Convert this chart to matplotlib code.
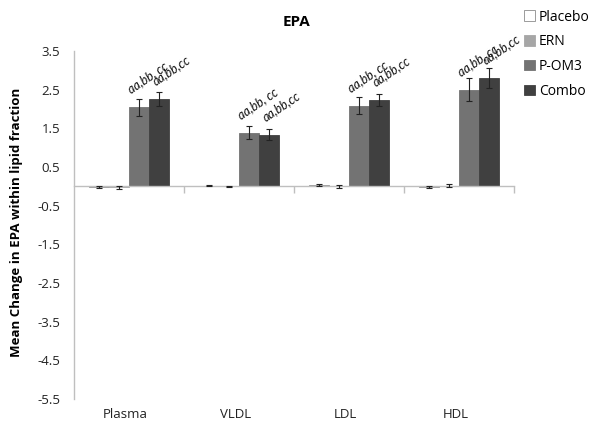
import matplotlib
matplotlib.use("Agg")
import matplotlib.pyplot as plt
import numpy as np
from matplotlib.patches import Patch
import matplotlib.transforms as mtransforms

categories = ["Plasma", "VLDL", "LDL", "HDL"]
series = ["Placebo", "ERN", "P-OM3", "Combo"]
values = {
    "Placebo": [-0.02, 0.02, 0.03, -0.02],
    "ERN":     [-0.03, 0.00, 0.00, 0.02],
    "P-OM3":   [2.05, 1.39, 2.09, 2.50],
    "Combo":   [2.27, 1.34, 2.24, 2.81],
}
errors = {
    "Placebo": [0.02, 0.02, 0.03, 0.02],
    "ERN":     [0.05, 0.02, 0.04, 0.05],
    "P-OM3":   [0.22, 0.16, 0.22, 0.30],
    "Combo":   [0.18, 0.14, 0.15, 0.26],
}
annotations = {"P-OM3": "aa,bb, cc", "Combo": "aa,bb,cc"}
yticks = [3.5, 2.5, 1.5, 0.5, -0.5, -1.5, -2.5, -3.5, -4.5, -5.5]

colors = {"Placebo": "#ffffff", "ERN": "#a6a6a6", "P-OM3": "#737373", "Combo": "#404040"}
edges = {"Placebo": "#8c8c8c", "ERN": "#a6a6a6", "P-OM3": "#737373", "Combo": "#404040"}

plt.rcParams['font.family'] = ['Open Sans', 'DejaVu Sans']

fig = plt.figure(figsize=(6.0, 4.28), dpi=100)
ax = fig.add_axes([74/600, 1 - 399/428, 440/600, 348/428])

x = np.arange(len(categories))
w = 0.182
offs = [-1.5, -0.5, 0.5, 1.5]
ann_dx = {"P-OM3": -0.35, "Combo": -0.1}
for i, s in enumerate(series):
    xs = x + offs[i] * w
    ax.bar(xs, values[s], width=w, color=colors[s], edgecolor=edges[s], linewidth=0.6, zorder=2)
    ax.errorbar(xs, values[s], yerr=errors[s], fmt='none', ecolor='#222222',
                elinewidth=0.8, capsize=2.5, capthick=0.8, zorder=3)
    if s in annotations:
        for xi, v in zip(xs, values[s]):
            ax.text(xi + ann_dx[s] * w, v + 0.3, annotations[s], rotation=34,
                    rotation_mode='anchor', ha='left', va='bottom',
                    fontsize=9, style='italic', family=['Lato', 'DejaVu Sans'],
                    color='#111111', zorder=4)

ax.set_xlim(-0.5, 3.5)
ax.set_ylim(-5.5, 3.5)
ax.set_yticks(yticks)
ax.set_yticklabels([f"{t:.1f}" for t in yticks], fontsize=9.5, color='#222222')
ax.tick_params(axis='y', length=0, pad=10)

for sp in ['top', 'right']:
    ax.spines[sp].set_visible(False)
ax.spines['left'].set_color('#bfbfbf')
ax.spines['left'].set_linewidth(1.0)
ax.spines['bottom'].set_position(('data', 0))
ax.spines['bottom'].set_color('#bfbfbf')
ax.spines['bottom'].set_linewidth(1.0)
ax.set_xticks([0.5, 1.5, 2.5, 3.5])
ax.set_xticklabels([])
ax.tick_params(axis='x', direction='out', length=5, color='#bfbfbf', width=1.0)

trans = mtransforms.blended_transform_factory(ax.transData, ax.transAxes)
for xi, c in zip(x, categories):
    ax.text(xi - 0.03, -0.025, c, transform=trans, ha='center', va='top', fontsize=9.5, color='#222222')

fig.text(17/600, 1 - 222/428, "Mean Change in EPA within lipid fraction", rotation=90,
         ha='center', va='center', fontsize=9.5, fontweight='bold')
fig.text(296/600, 1 - 22/428, "EPA", ha='center', va='center', fontsize=11, fontweight='bold')

handles = [Patch(facecolor=colors[s], edgecolor=edges[s], linewidth=0.6) for s in series]
fig.legend(handles, series, loc='upper left', bbox_to_anchor=(518/600, 1 - 4/428),
           frameon=False, fontsize=10, handlelength=0.8, handleheight=0.8,
           handletextpad=0.3, labelspacing=0.7, borderaxespad=0)

fig.savefig("out.png", dpi=100)
